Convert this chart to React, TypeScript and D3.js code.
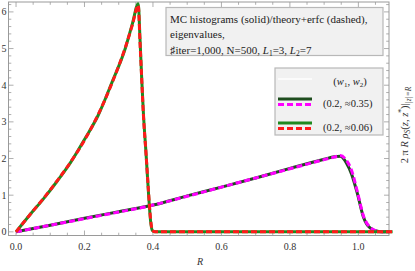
import React, { useEffect, useRef } from "react";
import * as d3 from "d3";

// series 1: w2 ≈ 0.06 (green MC histogram, red dashed theory)
const r1 = [0, 0.04, 0.08, 0.12, 0.16, 0.2, 0.24, 0.28, 0.32, 0.34, 0.357, 0.362, 0.367, 0.372, 0.38, 0.387, 0.393, 0.398, 0.405, 0.5, 0.7, 0.9, 1.1];
const mc1 = [0, 0.46, 0.9, 1.38, 1.9, 2.52, 3.18, 4.07, 5.03, 5.68, 6.22, 5.3, 4.2, 3.25, 2.1, 1.05, 0.3, 0.04, 0, 0, 0, 0, 0];
const th1 = [0, 0.46, 0.91, 1.39, 1.91, 2.5, 3.2, 4.05, 5.05, 5.65, 6.18, 5.2, 4.2, 3.2, 2.1, 1.1, 0.35, 0.05, 0, 0, 0, 0, 0];

// series 2: w2 ≈ 0.35 (dark green MC histogram, magenta dashed theory)
const r2 = [0, 0.1, 0.2, 0.3, 0.4, 0.5, 0.6, 0.7, 0.8, 0.9, 0.93, 0.947, 0.965, 0.98, 0.997, 1.015, 1.035, 1.06, 1.09];
const mc2 = [0, 0.18, 0.37, 0.55, 0.73, 0.98, 1.22, 1.47, 1.73, 1.98, 2.05, 2.06, 1.88, 1.58, 1.05, 0.4, 0.1, 0.01, 0];
const th2 = [0, 0.18, 0.36, 0.54, 0.73, 0.97, 1.22, 1.47, 1.72, 1.97, 2.04, 2.08, 1.95, 1.68, 1.1, 0.43, 0.12, 0.01, 0];

const xTicks = [0, 0.2, 0.4, 0.6, 0.8, 1.0];
const yTicks = [0, 1, 2, 3, 4, 5, 6];
const legendLabels = ["(0.2, \u22480.35)", "(0.2, \u22480.06)"];
const titleLines = ["MC histograms (solid)/theory+erfc (dashed),", "eigenvalues,"];

const App = () => {
  const ref = useRef<SVGSVGElement>(null);

  useEffect(() => {
    const width = 415, height = 271;
    const svg = d3.select(ref.current);
    svg.selectAll("*").remove();
    svg.attr("width", width).attr("height", height);

    const x = d3.scaleLinear().domain([-0.022, 1.0895]).range([8.5, 389]);
    const y = d3.scaleLinear().domain([-0.1, 6.27]).range([235.5, 2]);
    const frameColor = "#9a9a9a";
    const font = "Liberation Serif, Times New Roman, serif";

    // frame
    svg.append("rect")
      .attr("x", x.range()[0]).attr("y", y.range()[1])
      .attr("width", x.range()[1] - x.range()[0])
      .attr("height", y.range()[0] - y.range()[1])
      .attr("fill", "none").attr("stroke", frameColor).attr("stroke-width", 1);

    // ticks, inside the frame on all four sides
    const ticks = svg.append("g").attr("stroke", frameColor).attr("stroke-width", 0.8);
    d3.range(0, 1.0801, 0.05).forEach((t, i) => {
      const len = i % 4 === 0 ? 5 : 2.8;
      ticks.append("line").attr("x1", x(t)).attr("x2", x(t))
        .attr("y1", y.range()[0]).attr("y2", y.range()[0] - len);
      ticks.append("line").attr("x1", x(t)).attr("x2", x(t))
        .attr("y1", y.range()[1]).attr("y2", y.range()[1] + len);
    });
    d3.range(0, 6.201, 0.2).forEach((t, i) => {
      const len = i % 5 === 0 ? 5 : 2.8;
      ticks.append("line").attr("y1", y(t)).attr("y2", y(t))
        .attr("x1", x.range()[0]).attr("x2", x.range()[0] + len);
      ticks.append("line").attr("y1", y(t)).attr("y2", y(t))
        .attr("x1", x.range()[1]).attr("x2", x.range()[1] - len);
    });

    // tick labels
    svg.append("g").selectAll("text").data(xTicks).enter().append("text")
      .attr("x", (d) => x(d)).attr("y", 249.5)
      .attr("text-anchor", "middle").attr("font-family", font).attr("font-size", 10)
      .attr("fill", "#333").text((d) => d3.format(".1f")(d));
    svg.append("g").selectAll("text").data(yTicks).enter().append("text")
      .attr("x", 6.5).attr("y", (d) => y(d) + 3.5)
      .attr("text-anchor", "end").attr("font-family", font).attr("font-size", 10)
      .attr("fill", "#333").text((d) => d);

    // axis labels
    svg.append("text").attr("x", 200).attr("y", 265)
      .attr("text-anchor", "middle").attr("font-family", font).attr("font-size", 10)
      .attr("font-style", "italic").attr("fill", "#333").text("R");

    const yl = svg.append("text")
      .attr("transform", "translate(408,125) rotate(-90)")
      .attr("text-anchor", "middle").attr("font-family", font).attr("font-size", 10.5)
      .attr("fill", "#333");
    yl.append("tspan").text("2 \u03c0 ");
    yl.append("tspan").attr("font-style", "italic").text("R \u03c1");
    yl.append("tspan").attr("font-size", 7.5).attr("dy", 2).attr("font-style", "italic").text("S");
    yl.append("tspan").attr("dy", -2).text("(");
    yl.append("tspan").attr("font-style", "italic").text("z");
    yl.append("tspan").text(", ");
    yl.append("tspan").attr("font-style", "italic").text("z");
    yl.append("tspan").attr("font-size", 7.5).attr("dy", -4).text("*");
    yl.append("tspan").attr("dy", 4).text(")|");
    yl.append("tspan").attr("font-size", 7.5).attr("dy", 3).attr("font-style", "italic").text("|z|=R");

    // curves
    const mk = (rs: number[], vs: number[]) =>
      d3.line<number>().x((_, i) => x(rs[i])).y((d) => y(d)).curve(d3.curveMonotoneX)(vs);

    const plot = svg.append("g");
    plot.append("path").attr("d", mk(r2, mc2)).attr("fill", "none")
      .attr("stroke", "#1e4d1e").attr("stroke-width", 3);
    plot.append("path").attr("d", mk(r2, th2)).attr("fill", "none")
      .attr("stroke", "#ff00ff").attr("stroke-width", 3).attr("stroke-dasharray", "6,3");
    plot.append("path").attr("d", mk(r1, mc1)).attr("fill", "none")
      .attr("stroke", "#1f8a1f").attr("stroke-width", 3);
    plot.append("path").attr("d", mk(r1, th1)).attr("fill", "none")
      .attr("stroke", "#ff1a1a").attr("stroke-width", 3).attr("stroke-dasharray", "6,3");

    // title box
    const tb = svg.append("g");
    tb.append("rect").attr("x", 166).attr("y", 7.5).attr("width", 217).attr("height", 48)
      .attr("fill", "#f1f1f1").attr("stroke", "#b8b8b8").attr("stroke-width", 1.2);
    titleLines.forEach((t, i) => {
      tb.append("text").attr("x", 170).attr("y", 22.5 + i * 15.5)
        .attr("font-family", font).attr("font-size", 11).attr("fill", "#222").text(t);
    });
    const t3 = tb.append("text").attr("x", 170).attr("y", 53.5)
      .attr("font-family", font).attr("font-size", 11).attr("fill", "#222");
    t3.append("tspan").text("\u266fiter=1,000, N=500, ");
    t3.append("tspan").attr("font-style", "italic").text("L");
    t3.append("tspan").attr("font-size", 7.5).attr("dy", 2).text("1");
    t3.append("tspan").attr("dy", -2).text("=3, ");
    t3.append("tspan").attr("font-style", "italic").text("L");
    t3.append("tspan").attr("font-size", 7.5).attr("dy", 2).text("2");
    t3.append("tspan").attr("dy", -2).text("=7");

    // legend
    const lg = svg.append("g");
    lg.append("rect").attr("x", 275).attr("y", 68).attr("width", 108).attr("height", 67)
      .attr("fill", "#f1f1f1").attr("stroke", "#b8b8b8").attr("stroke-width", 1.2);
    lg.append("line").attr("x1", 278).attr("x2", 312).attr("y1", 79).attr("y2", 79)
      .attr("stroke", "#fbfbfb").attr("stroke-width", 2);
    const hd = lg.append("text").attr("x", 350).attr("y", 85)
      .attr("text-anchor", "middle").attr("font-family", font).attr("font-size", 10.5).attr("fill", "#222");
    hd.append("tspan").text("(");
    hd.append("tspan").attr("font-style", "italic").text("w");
    hd.append("tspan").attr("font-size", 7).attr("dy", 2).text("1");
    hd.append("tspan").attr("dy", -2).text(", ");
    hd.append("tspan").attr("font-style", "italic").text("w");
    hd.append("tspan").attr("font-size", 7).attr("dy", 2).text("2");
    hd.append("tspan").attr("dy", -2).text(")");

    const entries = [
      { solid: "#1e4d1e", dash: "#ff00ff", y0: 99 },
      { solid: "#1f8a1f", dash: "#ff1a1a", y0: 123 },
    ];
    entries.forEach((e, i) => {
      lg.append("line").attr("x1", 278).attr("x2", 312).attr("y1", e.y0).attr("y2", e.y0)
        .attr("stroke", e.solid).attr("stroke-width", 3);
      lg.append("line").attr("x1", 278).attr("x2", 312).attr("y1", e.y0 + 5.5).attr("y2", e.y0 + 5.5)
        .attr("stroke", e.dash).attr("stroke-width", 3).attr("stroke-dasharray", "6,3");
      lg.append("text").attr("x", 323).attr("y", e.y0 + 8)
        .attr("font-family", font).attr("font-size", 10.5).attr("fill", "#222").text(legendLabels[i]);
    });
  }, []);

  return (
    <div style={{ position: "absolute", left: 0, top: 0 }}>
      <svg ref={ref} style={{ display: "block" }}></svg>
    </div>
  );
};

export default App;
